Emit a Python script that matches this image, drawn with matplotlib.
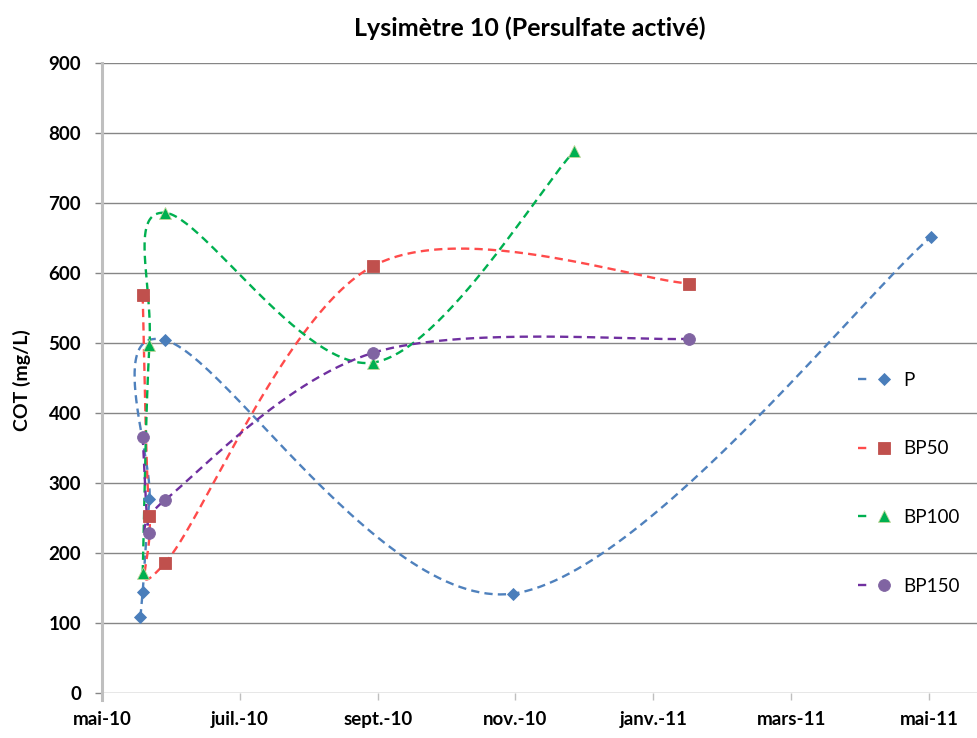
import numpy as np
import matplotlib

matplotlib.use("Agg")
import matplotlib.pyplot as plt
import matplotlib.dates as mdates
from matplotlib.legend_handler import HandlerTuple

# sampling dates / COT values (mg/L)
p_dates = ["2010-05-19", "2010-05-20", "2010-05-23", "2010-05-30", "2010-10-31", "2011-05-04"]
p_vals = [108, 144, 277, 504, 142, 652]

bp50_dates = ["2010-05-20", "2010-05-23", "2010-05-30", "2010-08-30", "2011-01-17"]
bp50_vals = [568, 253, 186, 610, 585]

bp100_dates = ["2010-05-20", "2010-05-23", "2010-05-30", "2010-08-30", "2010-11-27"]
bp100_vals = [171, 497, 686, 472, 774]

bp150_dates = ["2010-05-20", "2010-05-23", "2010-05-30", "2010-08-30", "2011-01-17"]
bp150_vals = [366, 228, 276, 486, 506]

tick_labels = ["mai-10", "juil.-10", "sept.-10", "nov.-10", "janv.-11", "mars-11", "mai-11"]
title = "Lysimètre 10 (Persulfate activé)"
ylabel = "COT (mg/L)"

FONT = ["Lato", "DejaVu Sans"]


def excel_smooth(x, y, n=60):
    # Excel-like smoothed line: cubic Bezier, control points from neighbours / 6
    x = np.asarray(x, dtype=float)
    y = np.asarray(y, dtype=float)
    px = np.concatenate([[x[0]], x, [x[-1]]])
    py = np.concatenate([[y[0]], y, [y[-1]]])
    t = np.linspace(0.0, 1.0, n)
    out_x, out_y = [], []
    for i in range(len(x) - 1):
        x0, y0 = x[i], y[i]
        x3, y3 = x[i + 1], y[i + 1]
        x1 = x0 + (x3 - px[i]) / 6
        y1 = y0 + (y3 - py[i]) / 6
        x2 = x3 - (px[i + 3] - x0) / 6
        y2 = y3 - (py[i + 3] - y0) / 6
        a = (1 - t) ** 3
        b = 3 * (1 - t) ** 2 * t
        c = 3 * (1 - t) * t ** 2
        d = t ** 3
        out_x.append(a * x0 + b * x1 + c * x2 + d * x3)
        out_y.append(a * y0 + b * y1 + c * y2 + d * y3)
    return np.concatenate(out_x), np.concatenate(out_y)


series = [
    ("P", p_dates, p_vals, "#4F81BD", "#4A7EBB", "D", 6.0, "#4A7EBB"),
    ("BP50", bp50_dates, bp50_vals, "#FF4B4B", "#C0504D", "s", 8.0, "#C0504D"),
    ("BP100", bp100_dates, bp100_vals, "#00B050", "#00B050", "^", 8.0, "#C3D69B"),
    ("BP150", bp150_dates, bp150_vals, "#7030A0", "#8064A2", "o", 8.5, "#8064A2"),
]

fig = plt.figure(figsize=(9.78, 7.38), dpi=100)
ax = fig.add_axes([102 / 978, 45 / 738, 876 / 978, 630 / 738])

handles, labels = [], []
for name, dates, vals, lc, mc, mk, ms, mec in series:
    xd = mdates.date2num(np.array(dates, dtype="datetime64[D]"))
    sx, sy = excel_smooth(xd, vals)
    (ln,) = ax.plot(sx, sy, color=lc, lw=1.7, ls=(0, (3.5, 2.2)), zorder=3)
    (mm,) = ax.plot(xd, vals, ls="none", marker=mk, ms=ms, color=mc,
                    markeredgecolor=mec, markeredgewidth=0.6, zorder=4)
    handles.append((ln, mm))
    labels.append(name)

x0 = mdates.date2num(np.datetime64("2010-05-02"))
ax.set_xlim(x0, x0 + 387.7)
ax.set_ylim(0, 900)

ax.set_xticks(x0 + 61 * np.arange(len(tick_labels)))
ax.set_xticklabels(tick_labels)
ax.set_yticks(np.arange(0, 901, 100))

ax.yaxis.grid(True, color="#868686", lw=1.0)
ax.set_axisbelow(True)
for s in ["top", "right", "bottom"]:
    ax.spines[s].set_visible(False)
ax.spines["left"].set_color("#BFBFBF")
ax.spines["left"].set_linewidth(2.2)
ax.spines["left"].set_bounds(-10, 900)

ax.tick_params(axis="y", length=5, width=1, color="#868686", pad=10)
ax.tick_params(axis="x", length=5, width=1, color="#BFBFBF", pad=8)
for lab in ax.get_xticklabels() + ax.get_yticklabels():
    lab.set_family(FONT)
    lab.set_fontweight("bold")
    lab.set_fontsize(13.5)

fig.text(530 / 978, 1 - 28 / 738, title, ha="center", va="center",
         family=FONT, fontweight="bold", fontsize=18)
fig.text(22 / 978, 1 - 380 / 738, ylabel, ha="center", va="center", rotation=90,
         family=FONT, fontweight="bold", fontsize=14)

leg = ax.legend(handles, labels, handler_map={tuple: HandlerTuple(ndivide=None)},
                loc="upper left", bbox_to_anchor=(841 / 978, 1 - 355 / 738),
                bbox_transform=fig.transFigure, frameon=False, numpoints=1,
                handlelength=1.7, handletextpad=0.7, labelspacing=2.75,
                prop={"family": FONT, "size": 13.5})

fig.savefig("out.png", dpi=100)
